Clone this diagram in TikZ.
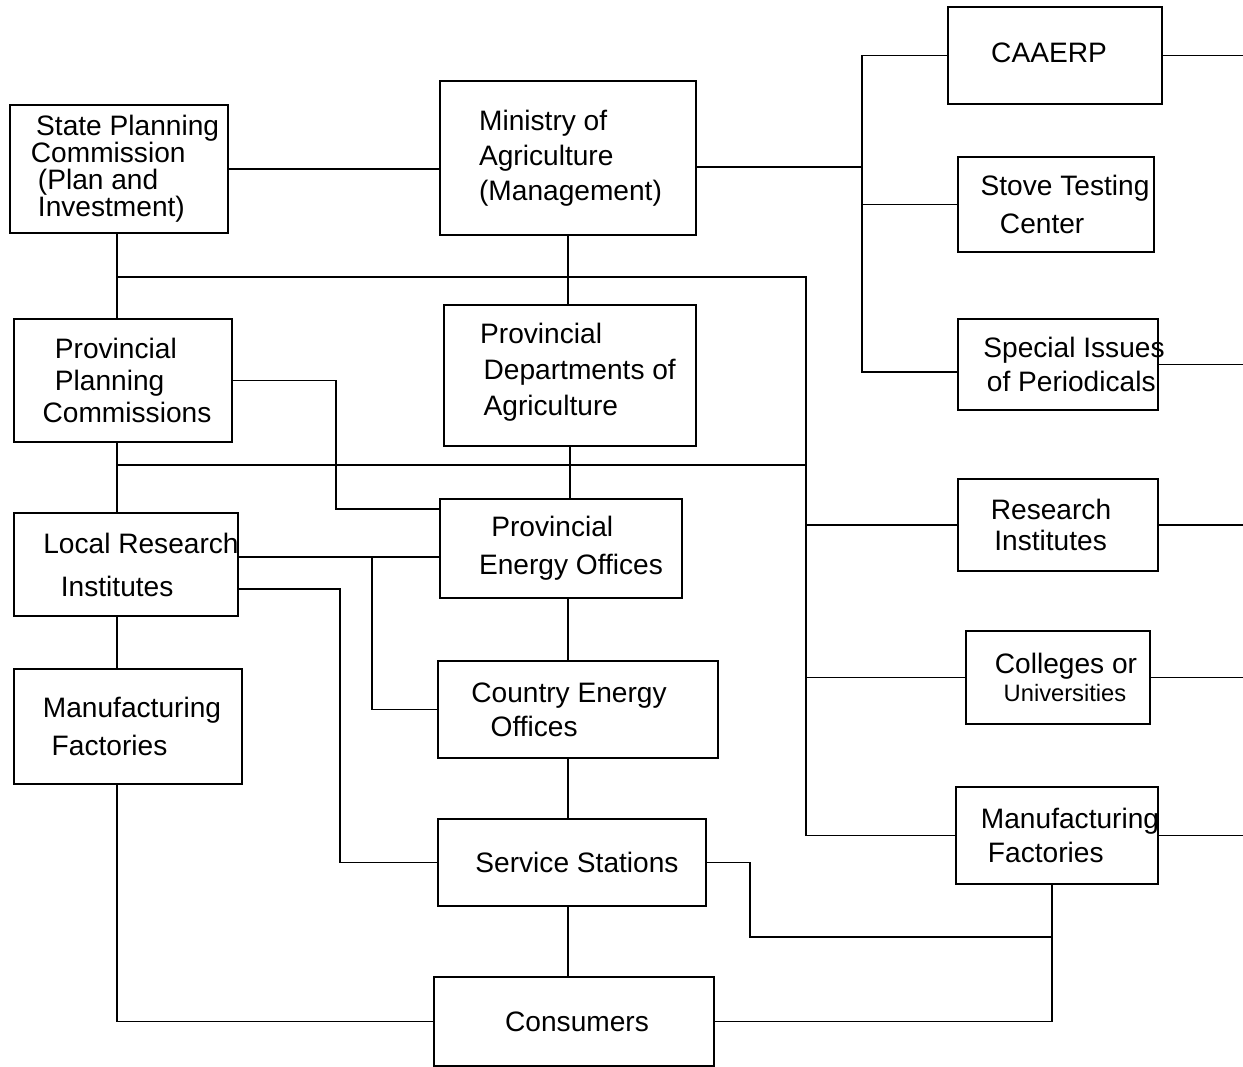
\documentclass[tikz,border=0pt]{standalone}
\usepackage{fontspec}
\setmainfont{Liberation Sans}
\newcommand{\boxfont}[1]{\fontsize{16}{#1}\selectfont}

\begin{document}
\begin{tikzpicture}[x=0.02cm, y=-0.02cm, line width=1.1pt,
  box/.style={draw, rectangle, inner sep=0pt, outer sep=0pt},
  txt/.style={inner sep=0pt, align=left, font=\boxfont{18}}]
\useasboundingbox (0,0) rectangle (1243,1067);

% Boxes, left column
\node[box, minimum width=4.36cm, minimum height=2.56cm] (spc) at (119,169) {};
\node[box, minimum width=4.36cm, minimum height=2.46cm] (ppc) at (123,380.5) {};
\node[box, minimum width=4.48cm, minimum height=2.06cm] (lri) at (126,564.5) {};
\node[box, minimum width=4.56cm, minimum height=2.30cm] (mfl) at (128,726.5) {};

% Boxes, middle column
\node[box, minimum width=5.12cm, minimum height=3.08cm] (moa) at (568,158) {};
\node[box, minimum width=5.04cm, minimum height=2.82cm] (pda) at (570,375.5) {};
\node[box, minimum width=4.84cm, minimum height=1.98cm] (peo) at (561,548.5) {};
\node[box, minimum width=5.60cm, minimum height=1.94cm] (ceo) at (578,709.5) {};
\node[box, minimum width=5.36cm, minimum height=1.74cm] (ss) at (572,862.5) {};
\node[box, minimum width=5.60cm, minimum height=1.78cm] (con) at (574,1021.5) {};

% Boxes, right column
\node[box, minimum width=4.28cm, minimum height=1.94cm] (caaerp) at (1055,55.5) {};
\node[box, minimum width=3.92cm, minimum height=1.90cm] (stc) at (1056,204.5) {};
\node[box, minimum width=4.00cm, minimum height=1.82cm] (sip) at (1058,364.5) {};
\node[box, minimum width=4.00cm, minimum height=1.84cm] (ri) at (1058,525) {};
\node[box, minimum width=3.68cm, minimum height=1.86cm] (cu) at (1058,677.5) {};
\node[box, minimum width=4.04cm, minimum height=1.94cm] (mfr) at (1057,835.5) {};

% Texts
\node[txt, font=\boxfont{15.4}] (spc-t) at ([xshift=0.12cm]spc.center) {\hspace*{3pt}State Planning\\Commission\\\hspace*{4pt}(Plan and\\\hspace*{4pt}Investment)};
\node[txt] (ppc-t) at ([xshift=0.08cm]ppc.center) {\hspace*{7pt}Provincial\\\hspace*{7pt}Planning\\Commissions};
\node[txt, font=\boxfont{24.5}] (lri-t) at ([xshift=0.30cm]lri.center) {Local Research\\\hspace*{10pt}Institutes};
\node[txt, font=\boxfont{22}] (mfl-t) at ([xshift=0.08cm]mfl.center) {Manufacturing\\\hspace*{5pt}Factories};
\node[txt, font=\boxfont{20}] (moa-t) at ([xshift=0.05cm]moa.center) {Ministry of\\Agriculture\\(Management)};
\node[txt, font=\boxfont{20.5}] (pda-t) at ([xshift=0.16cm, yshift=0.06cm]pda.center) {Provincial\\\hspace*{2pt}Departments of\\\hspace*{2pt}Agriculture};
\node[txt, font=\boxfont{21.5}] (peo-t) at ([xshift=0.20cm]peo.center) {\hspace*{7pt}Provincial\\Energy Offices};
\node[txt, font=\boxfont{19.3}] (ceo-t) at ([xshift=-0.18cm]ceo.center) {Country Energy\\\hspace*{11pt}Offices};
\node[txt] (ss-t) at ([xshift=0.10cm]ss.center) {Service Stations};
\node[txt] (con-t) at ([xshift=0.06cm]con.center) {Consumers};
\node[txt] (caaerp-t) at ([xshift=-0.12cm, yshift=0.05cm]caaerp.center) {CAAERP};
\node[txt, font=\boxfont{22}] (stc-t) at ([xshift=0.18cm]stc.center) {Stove Testing\\\hspace*{11pt}Center};
\node[txt, font=\boxfont{19}] (sip-t) at ([xshift=0.32cm]sip.center) {Special Issues\\\hspace*{2pt}of Periodicals};
\node[txt] (ri-t) at ([xshift=-0.14cm]ri.center) {Research\\\hspace*{2pt}Institutes};
\node[txt, font=\boxfont{16}] (cu-t) at ([xshift=0.16cm]cu.center) {Colleges or\\\hspace*{5pt}{\fontsize{13.5}{16}\selectfont Universities}};
\node[txt, font=\boxfont{19.3}] (mfr-t) at ([xshift=0.26cm]mfr.center) {Manufacturing\\\hspace*{4pt}Factories};

% Junctions
\coordinate (lx) at (117,0);
\coordinate (cx) at (568,0);
\coordinate (edge) at (1243,0);
\coordinate (mj) at (862,167);
\coordinate (sj) at (862,372);
\coordinate (tj) at (806,277);
\coordinate (uj) at (806,465);
\coordinate (pj) at (336,509);
\coordinate (lj) at (372,557);
\coordinate (lk) at (340,589);
\coordinate (sk) at (750,937);
\coordinate (fj) at (1052,937);

% Top links
\draw (spc.east) -- (spc.east -| moa.west);
\draw (moa.east |- mj) -- (mj);
\draw (caaerp.west) -| (sj) -- (sj -| sip.west);
\draw (sj |- stc.west) -- (stc.west);
\foreach \n in {caaerp, sip, ri, cu, mfr}
  \draw (\n.east) -- (\n.east -| edge);

% Left column
\draw (lx |- spc.south) -- (lx |- ppc.north);
\draw (lx |- ppc.south) -- (lx |- lri.north);
\draw (lx |- lri.south) -- (lx |- mfl.north);
\draw (lx |- mfl.south) |- (con.west);

% Long buses
\draw (lx |- tj) -- (tj) |- (mfr.west);
\draw (tj |- ri.west) -- (ri.west);
\draw (tj |- cu.west) -- (cu.west);
\draw (lx |- uj) -- (uj);

% Middle column
\draw (moa.south) -- (moa.south |- pda.north);
\draw (pda.south) -- (pda.south |- peo.north);
\draw (cx |- peo.south) -- (cx |- ceo.north);
\draw (cx |- ceo.south) -- (cx |- ss.north);
\draw (cx |- ss.south) -- (cx |- con.north);

% Cross links
\draw (ppc.east) -| (pj) -- (pj -| peo.west);
\draw (lri.east |- lj) -- (lj -| peo.west);
\draw (lj) |- (ceo.west);
\draw (lri.east |- lk) -- (lk) |- (ss.west);
\draw (ss.east) -| (sk) -- (fj);
\draw (fj |- mfr.south) -- (fj) |- (con.east);
\end{tikzpicture}
\end{document}
